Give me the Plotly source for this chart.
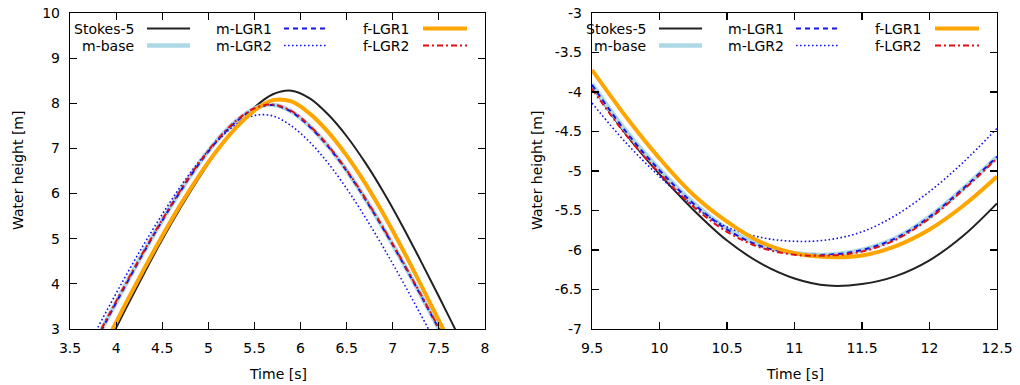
import plotly.graph_objects as go

# ---------------- data ----------------
t_left = [3.7, 3.9, 4.1, 4.3, 4.5, 4.7, 4.9, 5.1, 5.3, 5.5, 5.7,
          5.9, 6.1, 6.3, 6.5, 6.7, 6.9, 7.1, 7.3, 7.5, 7.7, 7.9]
stokes_left = [1.80, 2.62, 3.43, 4.22, 4.98, 5.69, 6.35, 6.96, 7.48, 7.91, 8.20,
               8.28, 8.11, 7.75, 7.27, 6.69, 6.03, 5.30, 4.52, 3.72, 2.90, 2.08]
mbase_left = [2.44, 3.21, 3.97, 4.71, 5.41, 6.07, 6.67, 7.19, 7.60, 7.88, 7.97,
              7.82, 7.49, 7.05, 6.51, 5.89, 5.22, 4.51, 3.77, 3.01, 2.24, 1.46]
mlgr1_left = [2.43, 3.20, 3.96, 4.70, 5.40, 6.06, 6.66, 7.18, 7.59, 7.87, 7.96,
              7.81, 7.48, 7.04, 6.50, 5.88, 5.21, 4.50, 3.76, 3.00, 2.23, 1.45]
mlgr2_left = [2.64, 3.41, 4.16, 4.87, 5.54, 6.16, 6.71, 7.17, 7.53, 7.73, 7.72,
              7.50, 7.14, 6.67, 6.11, 5.48, 4.80, 4.08, 3.33, 2.56, 1.78, 1.00]
flgr1_left = [1.93, 2.75, 3.55, 4.32, 5.06, 5.76, 6.40, 6.97, 7.46, 7.84, 8.07,
              8.04, 7.77, 7.36, 6.84, 6.23, 5.54, 4.79, 4.00, 3.19, 2.37, 1.55]
flgr2_left = [2.46, 3.23, 3.99, 4.72, 5.42, 6.08, 6.68, 7.20, 7.61, 7.89, 7.97,
              7.83, 7.50, 7.06, 6.52, 5.90, 5.23, 4.52, 3.78, 3.02, 2.25, 1.47]

t_right = [9.5, 9.75, 10.0, 10.25, 10.5, 10.75, 11.0, 11.25, 11.5, 11.75, 12.0, 12.25, 12.5]
stokes_right = [-3.93, -4.53, -5.04, -5.49, -5.88, -6.17, -6.36, -6.45, -6.43, -6.33, -6.13, -5.82, -5.41]
mbase_right = [-3.90, -4.49, -4.98, -5.40, -5.73, -5.94, -6.04, -6.06, -6.00, -5.85, -5.58, -5.22, -4.82]
mlgr1_right = [-3.91, -4.50, -4.99, -5.41, -5.74, -5.95, -6.04, -6.06, -6.00, -5.85, -5.58, -5.22, -4.82]
mlgr2_right = [-4.14, -4.64, -5.07, -5.44, -5.71, -5.84, -5.89, -5.87, -5.77, -5.56, -5.26, -4.89, -4.46]
flgr1_right = [-3.72, -4.31, -4.84, -5.30, -5.64, -5.90, -6.04, -6.09, -6.07, -5.95, -5.74, -5.44, -5.07]
flgr2_right = [-3.96, -4.54, -5.03, -5.45, -5.77, -5.97, -6.06, -6.07, -6.02, -5.87, -5.60, -5.24, -4.84]

series_names = ["Stokes-5", "m-base", "m-LGR1", "m-LGR2", "f-LGR1", "f-LGR2"]

xticks_left = [3.5, 4, 4.5, 5, 5.5, 6, 6.5, 7, 7.5, 8]
xticklabels_left = ["3.5", "4", "4.5", "5", "5.5", "6", "6.5", "7", "7.5", "8"]
yticks_left = [3, 4, 5, 6, 7, 8, 9, 10]
yticklabels_left = ["3", "4", "5", "6", "7", "8", "9", "10"]
xticks_right = [9.5, 10, 10.5, 11, 11.5, 12, 12.5]
xticklabels_right = ["9.5", "10", "10.5", "11", "11.5", "12", "12.5"]
yticks_right = [-7, -6.5, -6, -5.5, -5, -4.5, -4, -3.5, -3]
yticklabels_right = ["-7", "-6.5", "-6", "-5.5", "-5", "-4.5", "-4", "-3.5", "-3"]

# ---------------- styles ----------------
styles = [
    dict(color="#222222", width=2, dash="solid"),
    dict(color="#add8e6", width=4.5, dash="solid"),
    dict(color="#1414e6", width=2, dash="5px,4px"),
    dict(color="#1414e6", width=1.6, dash="1.6px,2.4px"),
    dict(color="#ffa500", width=4, dash="solid"),
    dict(color="#e01010", width=2, dash="6px,3px,2px,3px"),
]

FONT = "DejaVu Sans"
W, H = 1020, 385
ML, MR, MT, MB = 70, 23, 13, 56
plot_w = W - ML - MR
left_px = (70, 485)
right_px = (592, 997)
dom_left = [(left_px[0] - ML) / plot_w, (left_px[1] - ML) / plot_w]
dom_right = [(right_px[0] - ML) / plot_w, (right_px[1] - ML) / plot_w]

fig = go.Figure()

left_data = [stokes_left, mbase_left, mlgr1_left, mlgr2_left, flgr1_left, flgr2_left]
right_data = [stokes_right, mbase_right, mlgr1_right, mlgr2_right, flgr1_right, flgr2_right]

for name, ys, st in zip(series_names, left_data, styles):
    fig.add_trace(go.Scatter(x=t_left, y=ys, mode="lines", name=name, showlegend=False,
                             line=dict(color=st["color"], width=st["width"], dash=st["dash"],
                                       shape="spline", smoothing=1.0),
                             xaxis="x", yaxis="y"))
for name, ys, st in zip(series_names, right_data, styles):
    fig.add_trace(go.Scatter(x=t_right, y=ys, mode="lines", name=name, showlegend=False,
                             line=dict(color=st["color"], width=st["width"], dash=st["dash"],
                                       shape="spline", smoothing=1.0),
                             xaxis="x2", yaxis="y2"))

axis_common = dict(showline=True, linecolor="#000000", linewidth=1.2, mirror="ticks",
                   ticks="inside", ticklen=7, tickwidth=1.2, tickcolor="#000000",
                   showgrid=False, zeroline=False, automargin=False,
                   tickfont=dict(family=FONT, size=14, color="#000000"))

fig.update_layout(
    width=W, height=H,
    margin=dict(l=ML, r=MR, t=MT, b=MB, autoexpand=False),
    paper_bgcolor="white", plot_bgcolor="white",
    font=dict(family=FONT, size=14, color="#000000"),
    xaxis=dict(domain=dom_left, range=[3.5, 8], tickvals=xticks_left, ticktext=xticklabels_left,
               anchor="y", ticklabelstandoff=6, **axis_common),
    yaxis=dict(domain=[0, 1], range=[3, 10], tickvals=yticks_left, ticktext=yticklabels_left,
               anchor="x", ticklabelstandoff=6, **axis_common),
    xaxis2=dict(domain=dom_right, range=[9.5, 12.5], tickvals=xticks_right, ticktext=xticklabels_right,
                anchor="y2", ticklabelstandoff=6, **axis_common),
    yaxis2=dict(domain=[0, 1], range=[-7, -3], tickvals=yticks_right, ticktext=yticklabels_right,
                anchor="x2", ticklabelstandoff=6, **axis_common),
)

annotations = []
shapes = []
# axis titles
for px, ytitle_x in [(left_px, 18), (right_px, 537)]:
    annotations.append(dict(text="Time [s]", xref="paper", yref="paper",
                            x=((px[0] + px[1]) / 2 - ML) / plot_w, y=0, yshift=-45,
                            showarrow=False, xanchor="center", yanchor="middle",
                            font=dict(family=FONT, size=14)))
    annotations.append(dict(text="Water height [m]", xref="paper", yref="paper",
                            x=(ytitle_x - ML) / plot_w, y=0.5, textangle=-90, showarrow=False,
                            xanchor="center", yanchor="middle",
                            font=dict(family=FONT, size=14)))

# manual legend (gnuplot style: text, then line sample), anchored to right edge
text_end_off = [349, 211, 73]
samp_start_off = [338, 201, 62]
samp_end_off = [295, 157, 18]
row_y = [1 - 15.5 / 316, 1 - 32.5 / 316]
for (xr, yr, px) in [("x domain", "y domain", left_px), ("x2 domain", "y2 domain", right_px)]:
    pw = px[1] - px[0]
    for i, (name, st) in enumerate(zip(series_names, styles)):
        col, row = i // 2, i % 2
        annotations.append(dict(text=name, xref=xr, yref=yr,
                                x=1 - text_end_off[col] / pw, y=row_y[row],
                                showarrow=False, xanchor="right", yanchor="middle",
                                font=dict(family=FONT, size=14)))
        shapes.append(dict(type="line", xref=xr, yref=yr,
                           x0=1 - samp_start_off[col] / pw, x1=1 - samp_end_off[col] / pw,
                           y0=row_y[row], y1=row_y[row],
                           line=dict(color=st["color"], width=st["width"], dash=st["dash"])))

fig.update_layout(annotations=annotations, shapes=shapes)

fig.write_html("out.html", config={"displayModeBar": False, "staticPlot": True},
               post_script="document.body.style.margin='0';document.body.style.overflow='hidden';")
